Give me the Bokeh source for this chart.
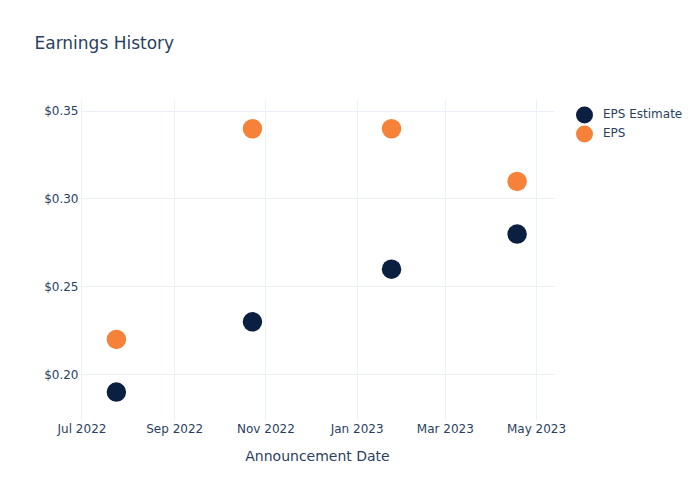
from datetime import datetime
from bokeh.plotting import figure
from bokeh.models import (FixedTicker, NumeralTickFormatter, DatetimeTickFormatter,
                          Legend, LegendItem, Range1d, ColumnDataSource, Title)
from bokeh.embed import file_html
from bokeh.resources import INLINE

dates = [datetime(2022, 7, 24), datetime(2022, 10, 23), datetime(2023, 1, 24), datetime(2023, 4, 18)]
eps_estimate = [0.19, 0.23, 0.26, 0.28]
eps_actual = [0.22, 0.34, 0.34, 0.31]
x_tick_dates = [datetime(2022, 7, 1), datetime(2022, 9, 1), datetime(2022, 11, 1),
                datetime(2023, 1, 1), datetime(2023, 3, 1), datetime(2023, 5, 1)]
y_ticks = [0.20, 0.25, 0.30, 0.35]
series_names = ["EPS Estimate", "EPS"]
series_colors = ["#0b1f41", "#f6823a"]

FONT = "DejaVu Sans"
TXT = "#2a3f5f"
GRID = "#ebf0f8"
FW, FH = 474, 320

def ms(d):
    return (d - datetime(1970, 1, 1)).total_seconds() * 1000.0

p = figure(frame_width=FW, frame_height=FH, output_backend="svg", toolbar_location=None,
           x_axis_type="datetime", title_location=None,
           x_range=Range1d(ms(datetime(2022, 6, 30, 0)), ms(datetime(2023, 5, 13))),
           y_range=Range1d(0.1738, 0.3561),
           min_border_left=80, min_border_right=146, min_border_top=100, min_border_bottom=80)
p.outline_line_color = None
p.background_fill_color = "white"
p.border_fill_color = "white"

src_est = ColumnDataSource(dict(x=dates, y=eps_estimate))
src_eps = ColumnDataSource(dict(x=dates, y=eps_actual))
r1 = p.scatter("x", "y", source=src_est, size=19.5, color=series_colors[0], line_width=0)
r2 = p.scatter("x", "y", source=src_eps, size=19.5, color=series_colors[1], line_width=0)

# blank spacer title next to the frame, then the real title further out
p.add_layout(Title(text=" ", standoff=45, text_font_size="1px", text_color="white"), "above")
p.add_layout(Title(text="Earnings History", text_font=FONT, text_font_size="17px",
                   text_font_style="normal", text_color=TXT, offset=-46, standoff=0,
                   align="left"), "above")

xa = p.xaxis[0]
xa.ticker = FixedTicker(ticks=[ms(d) for d in x_tick_dates])
xa.formatter = DatetimeTickFormatter(months="%b %Y", days="%b %Y", years="%b %Y")
xa.axis_label = "Announcement Date"
ya = p.yaxis[0]
ya.ticker = FixedTicker(ticks=y_ticks)
ya.formatter = NumeralTickFormatter(format="$0.00")

for ax in (xa, ya):
    ax.axis_line_color = None
    ax.major_tick_line_color = None
    ax.minor_tick_line_color = None
    ax.major_tick_out = 0
    ax.major_tick_in = 0
    ax.minor_tick_out = 0
    ax.minor_tick_in = 0
    ax.major_label_text_font = FONT
    ax.major_label_text_font_size = "12px"
    ax.major_label_text_color = TXT
    ax.axis_label_text_font = FONT
    ax.axis_label_text_font_size = "14px"
    ax.axis_label_text_font_style = "normal"
    ax.axis_label_text_color = TXT
xa.major_label_standoff = 1
xa.axis_label_standoff = 9
ya.major_label_standoff = 2

p.xgrid.grid_line_color = GRID
p.ygrid.grid_line_color = GRID
p.xgrid.ticker = xa.ticker
p.ygrid.ticker = ya.ticker

# legend swatches: a dotted round-capped line whose single dot sits mid-box
swatches = [
    p.line(x=dates[:1], y=eps_estimate[:1], line_width=17, line_cap="round",
           line_dash="0 20", line_dash_offset=10,
           line_color=series_colors[0], level="underlay"),
    p.line(x=dates[:1], y=eps_actual[:1], line_width=17, line_cap="round",
           line_dash="0 20", line_dash_offset=10,
           line_color=series_colors[1], level="underlay"),
]
legend = Legend(items=[LegendItem(label=n, renderers=[s]) for n, s in zip(series_names, swatches)],
                location=(20, 277.5), border_line_color=None, background_fill_alpha=0,
                label_text_font=FONT, label_text_font_size="12px", label_text_color=TXT,
                glyph_width=20, glyph_height=19, spacing=0, padding=0, margin=0,
                label_standoff=9, label_height=19)
p.add_layout(legend, "right")

open("out.html", "w").write(file_html(p, INLINE))
